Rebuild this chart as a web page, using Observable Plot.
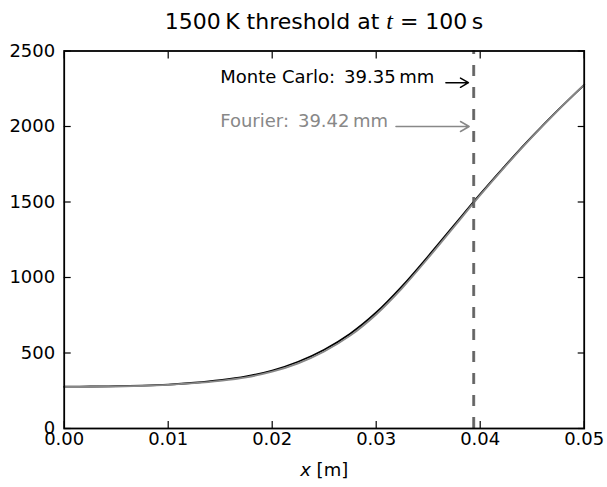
<!DOCTYPE html>
<html><head><meta charset="utf-8">
<script src="https://cdn.jsdelivr.net/npm/d3@7"></script>
<script src="https://cdn.jsdelivr.net/npm/@observablehq/plot@0.6"></script>
<style>
body{margin:0;background:#fff;}
#title{width:607px;height:40px;box-sizing:border-box;padding-left:41px;text-align:center;font-family:"DejaVu Sans";font-size:22px;line-height:42px;color:#000;white-space:nowrap;overflow:visible}
#title i{font-family:"Liberation Serif";font-size:24px}
</style></head><body>
<div id="title">1500&#8201;K threshold at <i>t</i> = 100&#8201;s</div>
<div id="chart"></div>
<script>
// position x [m]
const xPos = [0, 0.0025, 0.005, 0.0075, 0.01, 0.0125, 0.015, 0.0175, 0.02, 0.0225, 0.025,
              0.0275, 0.03, 0.0325, 0.035, 0.0375, 0.04, 0.0425, 0.045, 0.0475, 0.05];
// temperature [K]
const monteCarlo = [277, 278, 280, 284, 291, 303, 320, 345, 384, 442, 522,
                    628, 768, 943, 1141, 1347, 1552, 1748, 1934, 2110, 2276];
const fourier    = [275, 276, 278, 282, 289, 300, 316, 339, 376, 431, 510,
                    615, 755, 930, 1129, 1337, 1545, 1743, 1931, 2109, 2277];
const xTicks = [0, 0.01, 0.02, 0.03, 0.04, 0.05];
const yTicks = [0, 500, 1000, 1500, 2000, 2500];
const xDomain = [0, 0.05];
const yDomain = [0, 2500];
const methods = ["Monte Carlo", "Fourier"];
const methodColors = ["#000000", "#888888"];
const ruleColors = ["#3a3a3a", "#6e6e6e"];
const thresholdX = [0.03935, 0.03942];
const thresholdLabels = ["Monte Carlo:\u200239.35\u2009mm", "Fourier:\u200239.42\u2009mm"];
const labelX = [0.015, 0.015];
const labelY = [2290, 2000];
const arrowFrom = [0.0367, 0.0319];

const curveData = methods.flatMap((m, i) =>
  xPos.map((x, j) => ({method: m, x, t: (i === 0 ? monteCarlo : fourier)[j], color: methodColors[i]})));
const annots = methods.map((m, i) => ({
  method: m, x: labelX[i], y: labelY[i], text: thresholdLabels[i],
  from: arrowFrom[i], to: thresholdX[i], color: methodColors[i],
  rx: thresholdX[i], ry1: yDomain[0], ry2: yDomain[1], rcolor: ruleColors[i]
}));

const tickStyle = {tickSize: -7, tickFormat: () => "", label: null, strokeWidth: 1.2};

const chart = Plot.plot({
  width: 607, height: 447,
  marginTop: 10.5, marginBottom: 59, marginLeft: 63.7, marginRight: 23.3,
  x: {domain: xDomain},
  y: {domain: yDomain},
  color: {type: "identity"},
  style: {fontFamily: "DejaVu Sans", fontSize: "18px", color: "black", background: "white", overflow: "visible"},
  marks: [
    Plot.line(curveData.filter(d => d.method === "Monte Carlo"), {x: "x", y: "t", stroke: "color", strokeWidth: 1.8, curve: "catmull-rom"}),
    Plot.line(curveData.filter(d => d.method === "Fourier"), {x: "x", y: "t", stroke: "color", strokeWidth: 1.8, curve: "catmull-rom"}),
    Plot.ruleX(annots, {x: "rx", y1: "ry1", y2: "ry2", stroke: "rcolor", strokeWidth: 2, strokeDasharray: "11,11"}),
    Plot.text(annots, {x: "x", y: "y", text: "text", fill: "color", textAnchor: "start", lineAnchor: "bottom", fontSize: 18}),
    Plot.arrow(annots, {x1: "from", x2: "to", y1: "y", y2: "y", stroke: "color", strokeWidth: 1.5, insetEnd: 5, headLength: 10, headAngle: 60}),
    Plot.axisX({ticks: xTicks, anchor: "bottom", ...tickStyle}),
    Plot.axisX({ticks: xTicks, anchor: "top", ...tickStyle}),
    Plot.axisY({ticks: yTicks, anchor: "left", ...tickStyle}),
    Plot.axisY({ticks: yTicks, anchor: "right", ...tickStyle}),
    Plot.axisX({ticks: xTicks, anchor: "bottom", tickSize: 0, tickPadding: 4, tickFormat: d3.format(".2f"), label: null}),
    Plot.axisY({ticks: yTicks, anchor: "left", tickSize: 0, tickPadding: 9, tickFormat: d => String(d), label: null}),
    Plot.text(["x"], {frameAnchor: "bottom", text: d => d, dy: 47, dx: -24, textAnchor: "start", lineAnchor: "bottom", fontStyle: "italic", fontSize: 18}),
    Plot.text(["[m]"], {frameAnchor: "bottom", text: d => d, dy: 47, dx: 24, textAnchor: "end", lineAnchor: "bottom", fontSize: 18}),
    Plot.frame({stroke: "black", strokeWidth: 1.8})
  ]
});
document.getElementById("chart").appendChild(chart);
</script>
</body></html>
